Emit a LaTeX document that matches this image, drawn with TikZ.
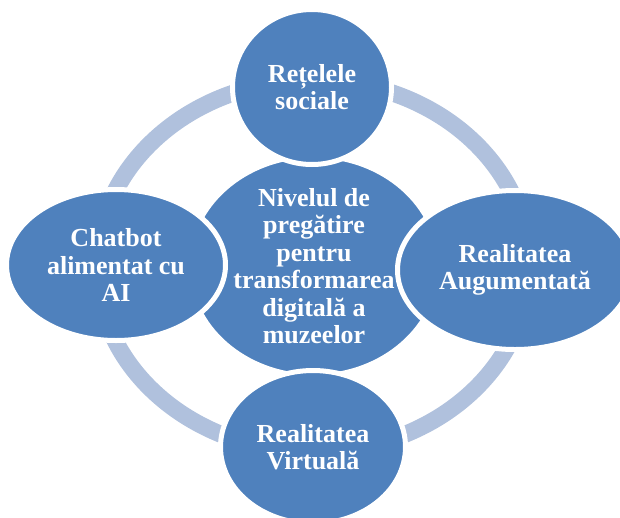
\documentclass[tikz,border=0pt]{standalone}
\usepackage{fontspec}
\setmainfont{Liberation Serif}
\usetikzlibrary{shapes.geometric}
\definecolor{orbblue}{HTML}{4F81BD}
\definecolor{ringblue}{HTML}{B0C1DD}
\tikzset{
  bubble/.style 2 args={ellipse, inner sep=0pt, minimum width=#1, minimum height=#2,
    fill=orbblue, draw=white, line width=5pt, align=center, text=white,
    font=\bfseries\fontsize{26}{27.5}\selectfont},
  orbit/.style={draw=ringblue, line width=17pt}}

\begin{document}
\begin{tikzpicture}[x=1pt, y=-1pt]
\useasboundingbox (0,0) rectangle (620,517);
\clip (0,0) rectangle (620,517);

% ring behind the bubbles
\coordinate (o) at (313,266);
\draw[orbit] (o) ellipse [x radius=216pt, y radius=186pt];

% hub
\node[bubble={251pt}{203pt}] (hub) at (314,266)
  {Nivelul de\\pregătire\\pentru\\transformarea\\digitală a\\muzeelor};

% spokes
\node[bubble={159pt}{155pt}] (social)    at (312,87)  {Rețelele\\sociale};
\node[bubble={185pt}{153pt}] (virtual)   at (313,447) {Realitatea\\Virtuală};
\node[bubble={219pt}{151pt}] (chatbot)   at (116,265) {Chatbot\\alimentat cu\\AI};
\node[bubble={235pt}{159pt}] (augmented) at (515,270) {Realitatea\\Augumentată};
\end{tikzpicture}
\end{document}
